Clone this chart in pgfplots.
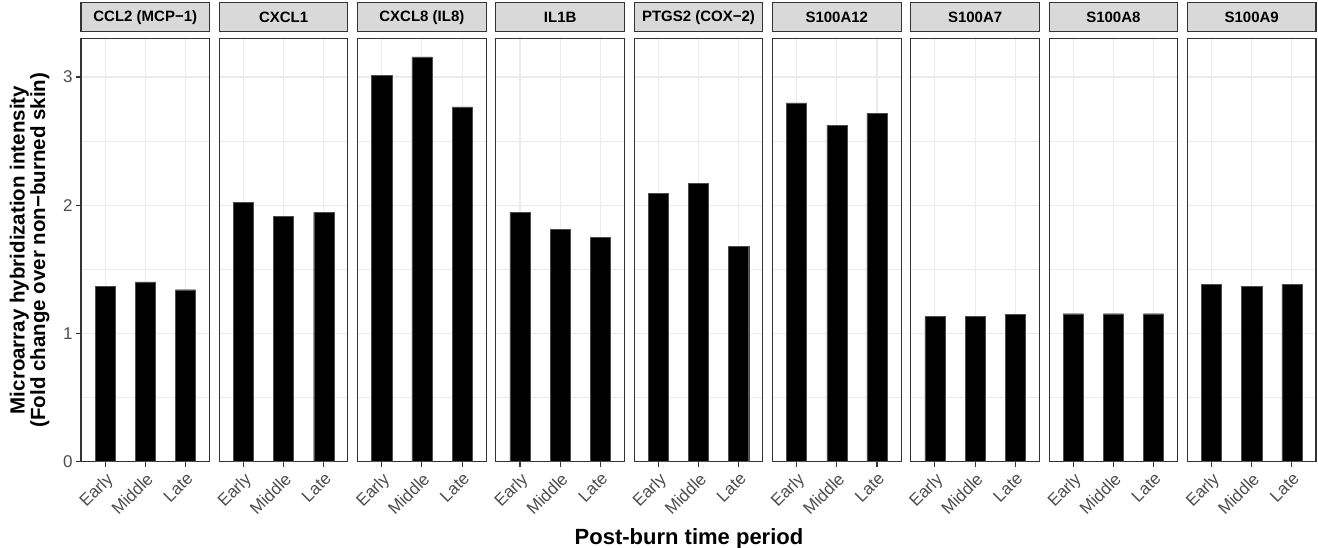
\documentclass[border=0pt]{standalone}
\usepackage{fontspec}
\setmainfont{Liberation Sans}
\usepackage{pgfplots}
\pgfplotsset{compat=1.18}
\usepgfplotslibrary{groupplots}
\definecolor{stripfill}{HTML}{D9D9D9}
\definecolor{border}{HTML}{333333}
\definecolor{gridmaj}{HTML}{EBEBEB}
\definecolor{ticklab}{HTML}{4D4D4D}

\pgfplotsset{
  facet/.style={
    width=128.6pt, height=423.2pt, scale only axis,
    ymin=0, ymax=3.30, xmin=0.4, xmax=3.6,
    xtick={1,2,3}, xticklabels={Early,Middle,Late},
    ytick={0,1,2,3}, minor ytick={0.5,1.5,2.5},
    grid=both,
    major grid style={draw=gridmaj, line width=1.1pt},
    minor grid style={draw=gridmaj, line width=0.55pt},
    axis line style={draw=border, line width=1.1pt},
    tick align=outside, major tick length=5pt, minor tick length=0pt,
    tick style={draw=border, line width=1.1pt},
    xtick pos=bottom, ytick pos=left,
    x tick label style={rotate=45, anchor=north east, text=ticklab,
      font=\fontsize{17}{17}\selectfont},
    y tick label style={text=ticklab, font=\fontsize{17}{17}\selectfont},
    /pgf/number format/assume math mode=true,
    ybar, bar width=0.5, bar shift=0pt,
    title style={at={(0.5,1)}, anchor=south, yshift=0pt, fill=stripfill,
      draw=border, line width=1.1pt, minimum width=128.6pt, minimum height=29pt,
      inner sep=0pt, font=\bfseries\fontsize{15}{15}\selectfont},
  },
  inner/.style={ytick style={draw=none}, yticklabels={}},
  bars/.style={fill=black, draw=black!70, line width=0.4pt},
}

\begin{document}
\begin{tikzpicture}
\begin{groupplot}[
  group style={group size=9 by 1, horizontal sep=9.7pt},
  facet,
]
\nextgroupplot[title={CCL2 (MCP−1)},
  ylabel={Microarray hybridization intensity\\(Fold change over non−burned skin)},
  ylabel style={at={(axis description cs:-0.4,0.5)}, anchor=center,
    align=center, font=\bfseries\fontsize{20.5}{20.5}\selectfont}]
\addplot[bars] coordinates {(1,1.369) (2,1.403) (3,1.341)};
\nextgroupplot[title={CXCL1}, inner]
\addplot[bars] coordinates {(1,2.024) (2,1.913) (3,1.944)};
\nextgroupplot[title={CXCL8 (IL8)}, inner]
\addplot[bars] coordinates {(1,3.014) (2,3.157) (3,2.767)};
\nextgroupplot[title={IL1B}, inner]
\addplot[bars] coordinates {(1,1.946) (2,1.811) (3,1.749)};
\nextgroupplot[title={PTGS2 (COX−2)}, inner]
\addplot[bars] coordinates {(1,2.092) (2,2.170) (3,1.681)};
\nextgroupplot[title={S100A12}, inner]
\addplot[bars] coordinates {(1,2.798) (2,2.624) (3,2.716)};
\nextgroupplot[title={S100A7}, inner]
\addplot[bars] coordinates {(1,1.131) (2,1.131) (3,1.149)};
\nextgroupplot[title={S100A8}, inner]
\addplot[bars] coordinates {(1,1.154) (2,1.154) (3,1.154)};
\nextgroupplot[title={S100A9}, inner]
\addplot[bars] coordinates {(1,1.383) (2,1.368) (3,1.383)};
\end{groupplot}
\node[anchor=base, font=\bfseries\fontsize{22}{22}\selectfont]
  at ([xshift=608pt,yshift=-82.3pt]group c1r1.south west) {Post-burn time period};
\pgfresetboundingbox
\path[use as bounding box] ([xshift=-81pt,yshift=-85.3pt]group c1r1.south west)
  rectangle ([xshift=2pt,yshift=38.5pt]group c9r1.north east);
\end{tikzpicture}
\end{document}
